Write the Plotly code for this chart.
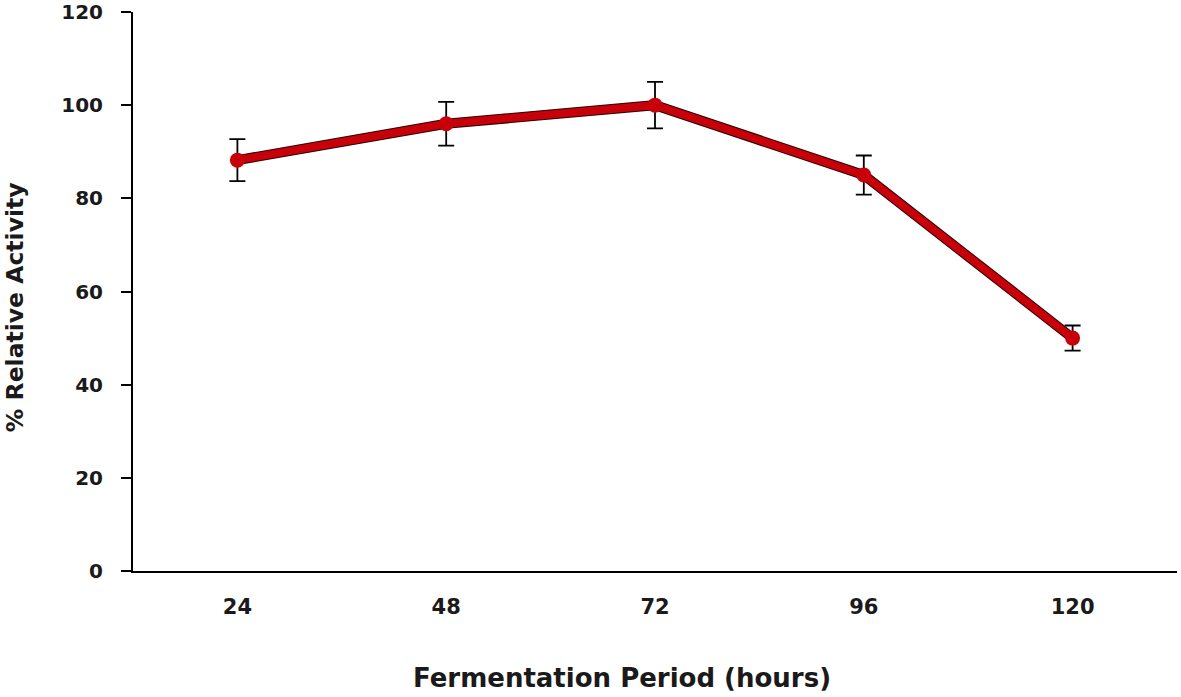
import plotly.graph_objects as go

hours = ["24", "48", "72", "96", "120"]
activity = [88.2, 96.0, 100.0, 85.0, 50.0]
errors = [4.5, 4.7, 5.0, 4.2, 2.7]
y_ticks = [0, 20, 40, 60, 80, 100, 120]

fig = go.Figure()
# shadow-like dark outline beneath the line
fig.add_trace(go.Scatter(
    x=hours, y=activity, mode="lines",
    line=dict(color="#2a0000", width=10),
    hoverinfo="skip", showlegend=False,
))
fig.add_trace(go.Scatter(
    x=hours, y=activity, mode="lines+markers",
    line=dict(color="#C8000A", width=8),
    marker=dict(color="#C8000A", size=15),
    error_y=dict(type="data", array=errors, visible=True,
                 color="black", thickness=1.8, width=8),
    showlegend=False,
))

font_family = "DejaVu Sans, Liberation Sans, Arial, sans-serif"
fig.update_layout(
    width=1181, height=697,
    margin=dict(l=133, r=4, t=12, b=126),
    paper_bgcolor="white", plot_bgcolor="white",
    font=dict(family=font_family, color="black"),
    xaxis=dict(
        type="category", automargin=False,
        range=[-0.5, len(hours) - 0.5],
        showline=True, linecolor="black", linewidth=2,
        ticks="", showgrid=False, zeroline=False,
        ticklabelstandoff=16,
        tickfont=dict(size=21, family=font_family, weight="bold", color="#1a1a1a"),
    ),
    yaxis=dict(
        range=[0, 120], tickvals=y_ticks, automargin=False,
        showline=True, linecolor="black", linewidth=2,
        ticks="outside", ticklen=10, tickwidth=1.5, tickcolor="black",
        ticklabelstandoff=14,
        showgrid=False, zeroline=False,
        tickfont=dict(size=20, family=font_family, weight="bold", color="#1a1a1a"),
    ),
    annotations=[
        dict(text="<b>Fermentation Period (hours)</b>", xref="paper", yref="paper",
             x=0.468, y=-0.1914, xanchor="center", yanchor="middle", showarrow=False,
             font=dict(size=26, family=font_family, color="#1a1a1a")),
        dict(text="<b>% Relative Activity</b>", xref="paper", yref="paper",
             x=-0.113, y=0.472, xanchor="center", yanchor="middle", showarrow=False,
             textangle=-90,
             font=dict(size=23.5, family=font_family, color="#1a1a1a")),
    ],
)

fig.write_html("out.html", config={"displayModeBar": False},
               post_script="document.body.style.margin='0px';")
